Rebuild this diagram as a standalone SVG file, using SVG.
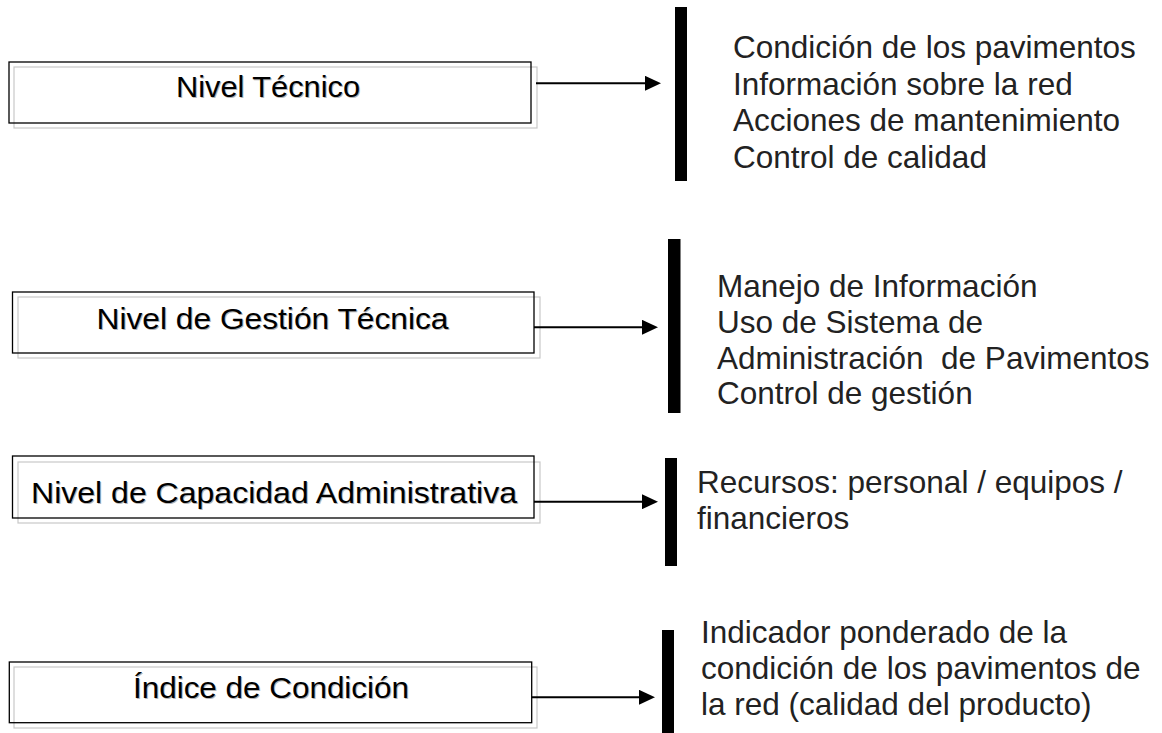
<svg xmlns="http://www.w3.org/2000/svg" width="1162" height="733" viewBox="0 0 1162 733">
<style>
.frame{fill:none;stroke:#000;stroke-width:1.3}
.shadow{fill:none;stroke:#c8c8c8;stroke-width:1.2}
.lbl{font-family:"Liberation Sans",Arial,sans-serif;font-size:30px;fill:#000;text-anchor:middle}
.lblsh{font-family:"Liberation Sans",Arial,sans-serif;font-size:30px;fill:#b4b4b4;text-anchor:middle}
.bar{fill:#000}
.desc{font-family:"Liberation Sans",Arial,sans-serif;font-size:31.5px;fill:#222}
.conn{stroke:#000;stroke-width:2;fill:none}
</style>
<defs>
<marker id="ah" markerUnits="userSpaceOnUse" markerWidth="16" markerHeight="15" refX="8" refY="7.5" orient="auto">
<path d="M0,0 L16,7.5 L0,15 Z" fill="#000"/>
</marker>
</defs>
<rect width="1162" height="733" fill="#fff"/>

<g id="node-nivel-tecnico">
<rect class="shadow" x="14" y="67" width="523" height="61"/>
<rect class="frame" x="9" y="62" width="522" height="61"/>
<text class="lblsh" x="269" y="98" textLength="184" lengthAdjust="spacingAndGlyphs">Nivel Técnico</text>
<text class="lbl" x="268" y="97" textLength="184" lengthAdjust="spacingAndGlyphs">Nivel Técnico</text>
</g>
<g id="node-gestion-tecnica">
<rect class="shadow" x="18" y="297" width="522" height="61"/>
<rect class="frame" x="12.5" y="292" width="521.5" height="61"/>
<text class="lblsh" x="273.5" y="330" textLength="352" lengthAdjust="spacingAndGlyphs">Nivel de Gestión Técnica</text>
<text class="lbl" x="272.5" y="329" textLength="352" lengthAdjust="spacingAndGlyphs">Nivel de Gestión Técnica</text>
</g>
<g id="node-capacidad">
<rect class="shadow" x="18" y="462" width="522" height="61"/>
<rect class="frame" x="12.5" y="456" width="521.5" height="62"/>
<text class="lblsh" x="275" y="504" textLength="486" lengthAdjust="spacingAndGlyphs">Nivel de Capacidad Administrativa</text>
<text class="lbl" x="274" y="503" textLength="486" lengthAdjust="spacingAndGlyphs">Nivel de Capacidad Administrativa</text>
</g>
<g id="node-indice">
<rect class="shadow" x="14" y="667" width="523" height="61"/>
<rect class="frame" x="9.3" y="662" width="522.4" height="60.7"/>
<text class="lblsh" x="272" y="699" textLength="276" lengthAdjust="spacingAndGlyphs">Índice de Condición</text>
<text class="lbl" x="271" y="698" textLength="276" lengthAdjust="spacingAndGlyphs">Índice de Condición</text>
</g>

<g id="node-desc-tecnico">
<rect class="bar" x="675" y="7" width="12" height="174"/>
<text class="desc"><tspan x="733" y="58">Condición de los pavimentos</tspan><tspan x="733" y="94.5">Información sobre la red</tspan><tspan x="733" y="131">Acciones de mantenimiento</tspan><tspan x="733" y="167.5">Control de calidad</tspan></text>
</g>
<g id="node-desc-gestion">
<rect class="bar" x="668" y="239" width="12.5" height="174"/>
<text class="desc" xml:space="preserve"><tspan x="717" y="297">Manejo de Información</tspan><tspan x="717" y="333">Uso de Sistema de</tspan><tspan x="717" y="368.5">Administración  de Pavimentos</tspan><tspan x="717" y="404">Control de gestión</tspan></text>
</g>
<g id="node-desc-capacidad">
<rect class="bar" x="665" y="458" width="12" height="108"/>
<text class="desc"><tspan x="697" y="493">Recursos: personal / equipos /</tspan><tspan x="697" y="529">financieros</tspan></text>
</g>
<g id="node-desc-indice">
<rect class="bar" x="662" y="630" width="12" height="103"/>
<text class="desc"><tspan x="701" y="643">Indicador ponderado de la</tspan><tspan x="701" y="679">condición de los pavimentos de</tspan><tspan x="701" y="715">la red (calidad del producto)</tspan></text>
</g>

<g id="connectors">
<line class="conn" x1="536" y1="83.3" x2="653" y2="83.3" marker-end="url(#ah)"/>
<line class="conn" x1="534" y1="327.3" x2="650" y2="327.3" marker-end="url(#ah)"/>
<line class="conn" x1="534" y1="501.7" x2="650" y2="501.7" marker-end="url(#ah)"/>
<line class="conn" x1="531.7" y1="697.3" x2="647" y2="697.3" marker-end="url(#ah)"/>
</g>
</svg>
